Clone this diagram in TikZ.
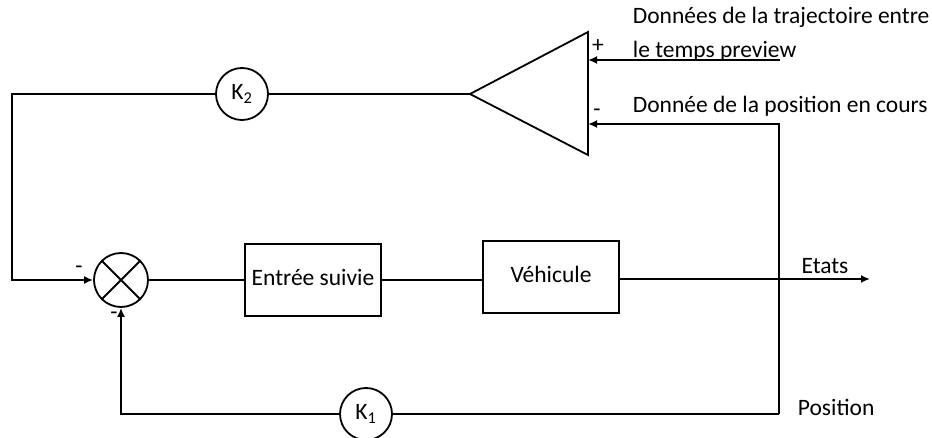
\documentclass[tikz,border=0pt]{standalone}
\usepackage{fontspec}
\setmainfont{Carlito}
\usetikzlibrary{arrows.meta}
\begin{document}
\begin{tikzpicture}[x=1pt,y=-1pt,line width=1.8pt,font=\fontsize{23.5}{27}\selectfont,>={Latex[length=9pt,width=8pt]}]
\tikzset{gain/.style={draw,circle,minimum size=52pt,inner sep=0pt},
  bloc/.style={draw,minimum width=136pt,minimum height=72pt,inner sep=0pt},
  signe/.style={inner sep=0pt},
  texte/.style={anchor=west,inner sep=0pt}}
\useasboundingbox (0,0) rectangle (932,438);
% blocs de la chaine directe
\node[draw,circle,minimum size=54pt,inner sep=0pt] (som) at (121,280) {};
\draw (som.north west)--(som.south east) (som.north east)--(som.south west);
\node[bloc] (ent) at (313,280) {\raisebox{6pt}{Entrée suivie}};
\node[bloc] (veh) at (551,277) {\raisebox{5pt}{Véhicule}};
\coordinate (sortie) at (870,279);
\draw (som.east)--(ent.west);
\draw (ent.east)--(veh.west |- ent.east);
\draw[->] (veh.east |- sortie)--(sortie) node[pos=.82,above=1pt] {Etats};
% comparateur
\coordinate (tA) at (588,32);\coordinate (tB) at (588,155);\coordinate (ampg) at (470,94);
\draw (tA)--(tB)--(ampg)--cycle;
\coordinate (plus) at (588,60);\coordinate (moins) at (588,124);
\coordinate (src) at (780,60);\coordinate (coin) at (779,414);
\draw[->] (src)--(plus);
\node[signe] (sp) at (598,46) {+};
\node[signe] (sm) at (597,113) {-};
% retour K2
\node[gain] (k2) at (242,94) {K\textsubscript{2}};
\coordinate (gauche) at (12,94);
\draw (ampg)--(k2);
\draw[->] (k2)--(gauche)|-(som.west);
\node[signe] (s1) at (79,270) {-};
% retour K1
\node[gain] (k1) at (366,414) {K\textsubscript{1}};
\draw (coin)--(k1);
\draw[->] (k1)-|(som.south);
\draw[->] (coin)|-(moins);
\node[signe] (s2) at (114,316) {-};
% textes
\node[texte] (t1) at (632,17) {Données de la trajectoire entre};
\node[texte] (t2) at (632,51) {le temps preview};
\node[texte] (t3) at (632,106) {Donnée de la position en cours};
\node[texte] (t4) at (797,407) {Position};
\end{tikzpicture}
\end{document}
